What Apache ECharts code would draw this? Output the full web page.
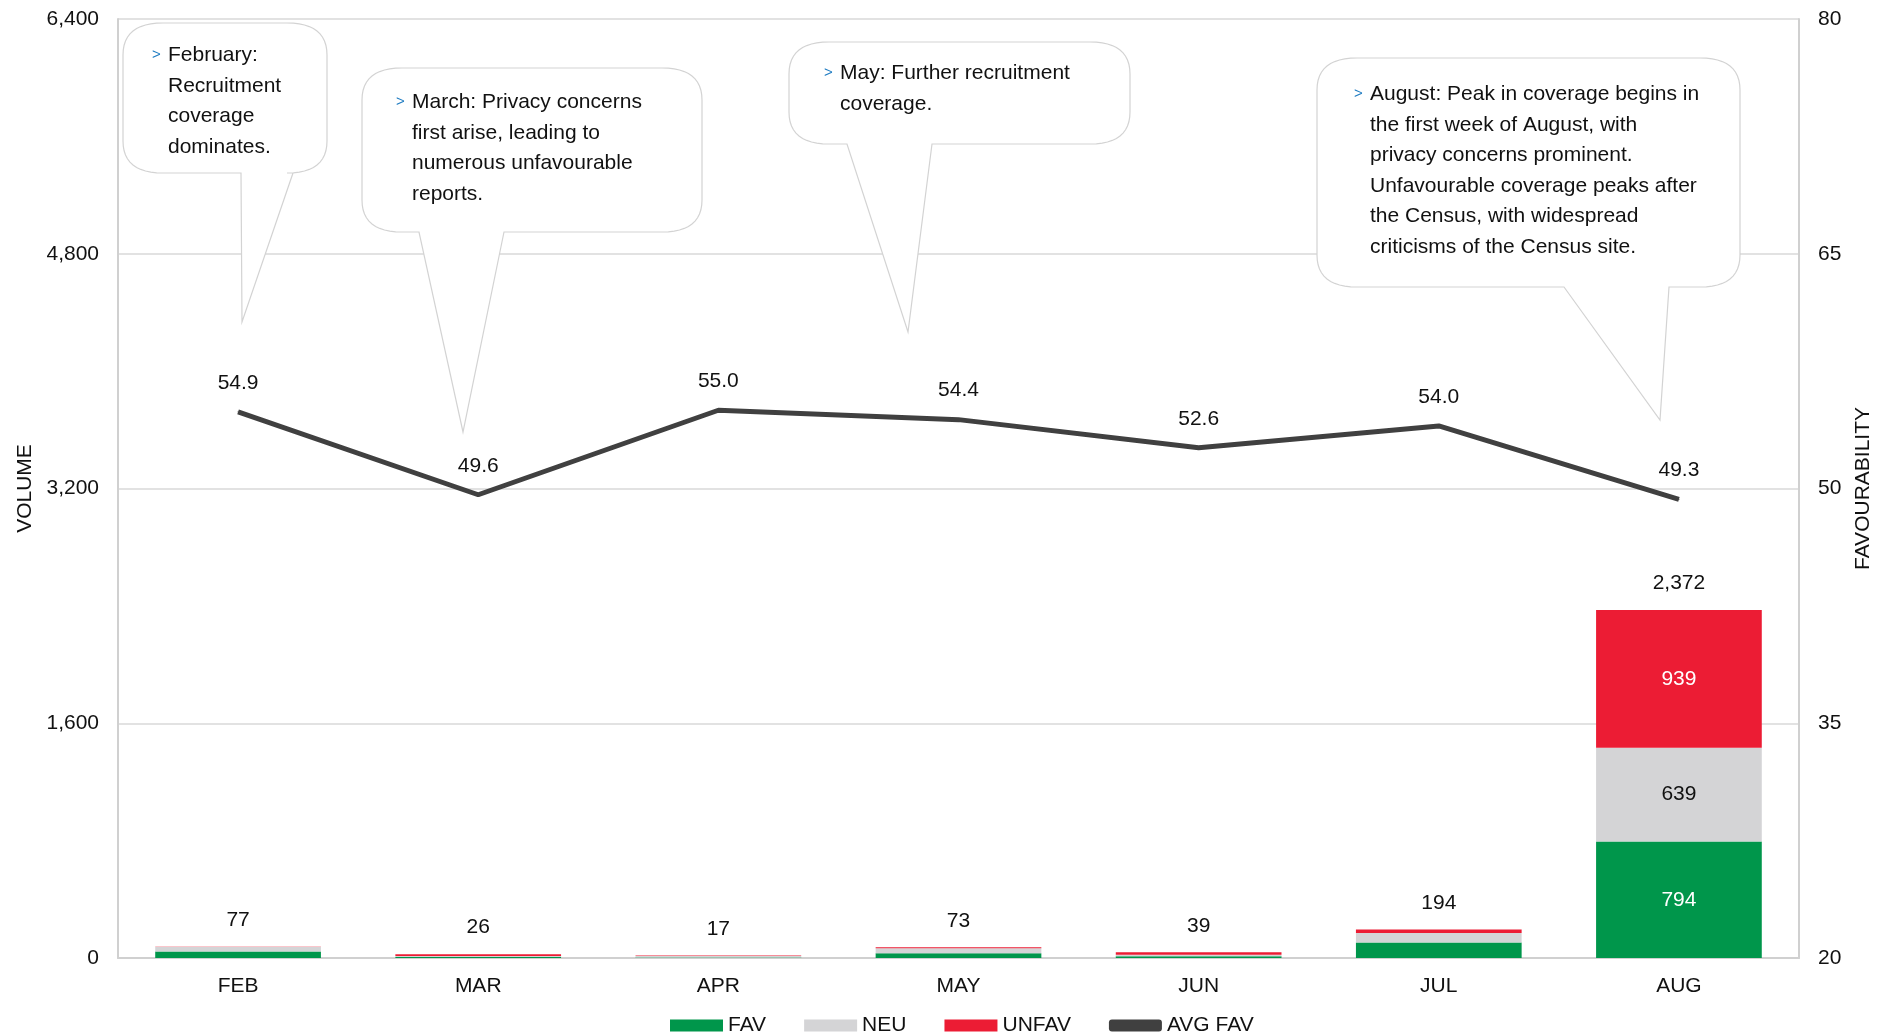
<!DOCTYPE html>
<html>
<head>
<meta charset="utf-8">
<script src="https://cdn.jsdelivr.net/npm/echarts@6/dist/echarts.min.js"></script>
<style>
  html, body { margin: 0; padding: 0; background: #fff; }
  #chart { width: 1886px; height: 1036px; }
</style>
</head>
<body>
<div id="chart"></div>
<script>
const months = ['FEB', 'MAR', 'APR', 'MAY', 'JUN', 'JUL', 'AUG'];
const fav = [44, 7, 3, 32, 12, 105, 794];
const neu = [31, 7, 10, 34, 10, 66, 639];
const unfav = [2, 12, 4, 7, 17, 23, 939];
const totals = [77, 26, 17, 73, 39, 194, 2372];
const avgFav = [54.9, 49.6, 55.0, 54.4, 52.6, 54.0, 49.3];

const FONT = '"Liberation Sans", Arial, sans-serif';
const TXT = '#111';

// callout bubbles (annotation shapes, not data)
const notes = [
  { box: [123, 23, 327, 173], tail: [241, 293, 242, 322], tx: 168, ty: 40,
    text: 'February:\nRecruitment\ncoverage\ndominates.' },
  { box: [362, 68, 702, 232], tail: [419, 504, 463, 432], tx: 412, ty: 87,
    text: 'March: Privacy concerns\nfirst arise, leading to\nnumerous unfavourable\nreports.' },
  { box: [789, 42, 1130, 144], tail: [847, 932, 908, 332], tx: 840, ty: 58,
    text: 'May: Further recruitment\ncoverage.' },
  { box: [1317, 58, 1740, 287], tail: [1564, 1669, 1660, 420], tx: 1370, ty: 79,
    text: 'August: Peak in coverage begins in\nthe first week of August, with\nprivacy concerns prominent.\nUnfavourable coverage peaks after\nthe Census, with widespread\ncriticisms of the Census site.' }
];

// quadratic corner from a to b with control c
function corner(pts, a, c, b) {
  for (let i = 0; i <= 12; i++) {
    const t = i / 12, u = 1 - t;
    pts.push([u * u * a[0] + 2 * u * t * c[0] + t * t * b[0],
              u * u * a[1] + 2 * u * t * c[1] + t * t * b[1]]);
  }
}

function bubblePoints(b, t) {
  const [x0, y0, x1, y1] = b;
  const [ta, tb, px, py] = t;
  const rx = 40, ry = 32;
  const pts = [];
  corner(pts, [x1 - rx, y0], [x1, y0], [x1, y0 + ry]);
  corner(pts, [x1, y1 - ry], [x1, y1], [x1 - rx, y1]);
  pts.push([tb, y1], [px, py], [ta, y1]);
  corner(pts, [x0 + rx, y1], [x0, y1], [x0, y1 - ry]);
  corner(pts, [x0, y0 + ry], [x0, y0], [x0 + rx, y0]);
  return pts;
}

const graphics = [];
notes.forEach(n => {
  graphics.push({
    type: 'polygon', z: 100,
    shape: { points: bubblePoints(n.box, n.tail) },
    style: { fill: '#fff', stroke: '#d3d3d3', lineWidth: 1.2 }
  });
  graphics.push({
    type: 'text', z: 101, x: n.tx - 16, y: n.ty + 15,
    style: { text: '>', fill: '#1f7cc2', font: '15px ' + FONT, verticalAlign: 'middle' }
  });
  graphics.push({
    type: 'text', z: 101, x: n.tx, y: n.ty,
    style: { text: n.text, fill: TXT, font: '21px ' + FONT, lineHeight: 30.6, verticalAlign: 'top' }
  });
});

const chart = echarts.init(document.getElementById('chart'));

const segLabel = (color) => ({
  show: true,
  position: 'inside',
  color: color,
  fontSize: 21,
  fontFamily: FONT,
  formatter: p => (p.value > 300 ? p.value : '')
});

const option = {
  backgroundColor: '#fff',
  animation: false,
  textStyle: { fontFamily: FONT },
  grid: { left: 118, right: 87, top: 19, bottom: 78 },
  legend: {
    top: 1010,
    left: 665,
    itemWidth: 53,
    itemHeight: 12,
    itemGap: 38,
    textStyle: { fontSize: 21, color: TXT, fontFamily: FONT },
    data: [
      { name: 'FAV', icon: 'rect' },
      { name: 'NEU', icon: 'rect' },
      { name: 'UNFAV', icon: 'rect' },
      { name: 'AVG FAV', icon: 'roundRect', itemStyle: { color: '#404040' } }
    ]
  },
  xAxis: {
    type: 'category',
    data: months,
    axisTick: { show: false },
    axisLine: { lineStyle: { color: '#d0d0d0', width: 2 } },
    axisLabel: { fontSize: 21, color: TXT, margin: 18 }
  },
  yAxis: [
    {
      type: 'value', min: 0, max: 6400, interval: 1600,
      name: 'VOLUME', nameLocation: 'middle', nameGap: 78,
      nameTextStyle: { fontSize: 21, color: TXT },
      axisLine: { show: true, lineStyle: { color: '#d0d0d0', width: 2 } },
      axisTick: { show: false },
      axisLabel: { fontSize: 21, color: TXT, margin: 19,
        formatter: v => v.toLocaleString('en-US') },
      splitLine: { lineStyle: { color: '#d9d9d9', width: 1.5 } }
    },
    {
      type: 'value', min: 20, max: 80, interval: 15,
      name: 'FAVOURABILITY', nameLocation: 'middle', nameGap: 50,
      nameTextStyle: { fontSize: 21, color: TXT },
      axisLine: { show: true, lineStyle: { color: '#d0d0d0', width: 2 } },
      axisTick: { show: false },
      axisLabel: { fontSize: 21, color: TXT, margin: 19 },
      splitLine: { show: false }
    }
  ],
  series: [
    { name: 'FAV', type: 'bar', stack: 'vol', barWidth: '69%',
      itemStyle: { color: '#00964b' }, label: segLabel('#fff'), data: fav },
    { name: 'NEU', type: 'bar', stack: 'vol',
      itemStyle: { color: '#d4d4d6' }, label: segLabel(TXT), data: neu },
    { name: 'UNFAV', type: 'bar', stack: 'vol',
      itemStyle: { color: '#ec1c34' }, label: segLabel('#fff'), data: unfav },
    // zero-height cap on the stack that carries the total label
    { name: 'TOTAL', type: 'bar', stack: 'vol',
      itemStyle: { color: 'transparent' },
      label: { show: true, position: 'top', distance: 16, fontSize: 21, color: TXT,
        formatter: p => totals[p.dataIndex].toLocaleString('en-US') },
      data: months.map(() => 0) },
    { name: 'AVG FAV', type: 'line', yAxisIndex: 1, z: 10,
      symbol: 'circle', symbolSize: 1,
      lineStyle: { color: '#404040', width: 5 },
      itemStyle: { color: '#404040' },
      label: { show: true, position: 'top', distance: 18, fontSize: 21, color: TXT,
        formatter: p => p.value.toFixed(1) },
      data: avgFav }
  ],
  graphic: graphics
};

chart.setOption(option);
</script>
</body>
</html>
